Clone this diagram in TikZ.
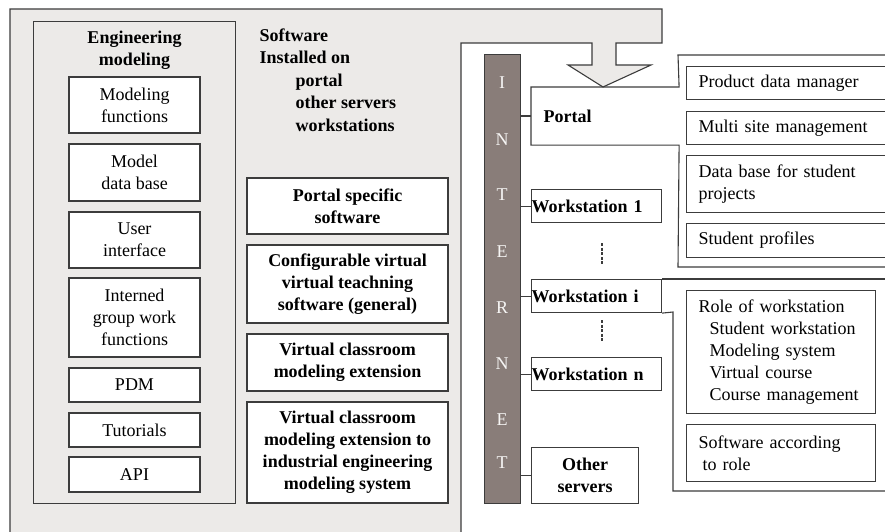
\documentclass[tikz,border=0pt]{standalone}
\usepackage{fontspec}
\setmainfont{Liberation Serif}
\usepackage{tikz}

\definecolor{paleshade}{RGB}{236,234,232}
\definecolor{netbrown}{RGB}{137,125,121}
\definecolor{edgegray}{RGB}{60,60,60}

\begin{document}
\begin{tikzpicture}[x=1pt, y=-1pt, line width=1.1pt,
    every node/.style={font=\fontsize{18}{22}\selectfont},
    softbox/.style={draw=edgegray, fill=white, align=center, minimum width=131, inner sep=0},
    bigbox/.style={draw=edgegray, fill=white, align=center, minimum width=201, inner sep=0,
        font=\fontsize{18}{22}\selectfont\bfseries},
    sidebox/.style={draw=edgegray, fill=white, anchor=north west, align=left, inner xsep=12, inner ysep=0},
    wsbox/.style={draw=edgegray, fill=white, anchor=north west, minimum height=33, text width=130,
        align=left, inner sep=0, font=\fontsize{18}{22}\selectfont\bfseries},
    netletter/.style={text=white!92!netbrown, font=\fontsize{18}{20}\selectfont}]
    \useasboundingbox (0,0) rectangle (885,532);

    % Background
    \fill[paleshade] (10,9) -- (662,9) -- (662,43) -- (616,43) -- (616,65) -- (651,65) -- (603,87)
        -- (568,65) -- (592,65) -- (592,43) -- (461,43) -- (461,532) -- (10,532) -- cycle;
    \draw[edgegray] (10,532) -- (10,9) -- (662,9) -- (662,43) -- (616,43) -- (616,65) -- (651,65)
        -- (603,87) -- (568,65) -- (592,65) -- (592,43) -- (461,43) -- (461,532);

    % Nodes
    \node[draw=edgegray, minimum width=202, minimum height=482, anchor=north west] (engframe) at (33,21) {};
    \node[align=center, font=\fontsize{18}{22}\selectfont\bfseries, anchor=north] (engtitle) at (134.5,27) {Engineering\\modeling};
    \node[softbox, minimum height=56] (modfun) at (134.5,105) {Modeling\\functions};
    \node[softbox, minimum height=57] (modeldb) at (134.5,172.5) {Model\\data base};
    \node[softbox, minimum height=56] (userif) at (134.5,240) {User\\interface};
    \node[softbox, minimum height=79] (groupwork) at (134.5,317.5) {Interned\\group work\\functions};
    \node[softbox, minimum height=34] (pdm) at (134.5,385) {PDM};
    \node[softbox, minimum height=34] (tutorials) at (134.5,430) {Tutorials};
    \node[softbox, minimum height=35] (api) at (134.5,474.5) {API};

    \node[align=left, anchor=north west, inner sep=0, font=\fontsize{18}{22.5}\selectfont\bfseries] (installed) at (259,28)
        {Software\\Installed on\\\hspace*{36pt}portal\\\hspace*{36pt}other servers\\\hspace*{36pt}workstations};

    \node[bigbox, minimum height=56] (portalsw) at (347.5,206) {Portal specific\\software};
    \node[bigbox, minimum height=78] (configsw) at (347.5,284) {Configurable virtual\\virtual teachning\\software (general)};
    \node[bigbox, minimum height=57] (vcext) at (347.5,362.5) {Virtual classroom\\modeling extension};
    \node[bigbox, minimum height=101] (vcind) at (347.5,452.5) {Virtual classroom\\modeling extension to\\industrial engineering\\modeling system};

    \node[draw=edgegray, fill=netbrown, minimum width=36, minimum height=449, anchor=north west, inner sep=0] (inet) at (484,54) {};
    \foreach \ltr/\ypos [count=\i] in {I/83, N/140, T/195, E/252, R/308, N/364, E/420, T/463}
        \node[netletter] (letter\i) at (502,\ypos) {\ltr};

    \node[anchor=north west, minimum width=147, minimum height=57, text width=123, inner xsep=12, inner ysep=0,
        align=left, font=\fontsize{18}{22}\selectfont\bfseries] (portal) at (531,87) {Portal};
    \draw[edgegray] (895,55) -- (678,55) -- (portal.north east) -- (portal.north west) -- (portal.south west)
        -- (portal.south east) -- (678,267) -- (895,267);

    \node[sidebox, minimum width=209, minimum height=33, text width=185] (pdmanager) at (686,66) {Product data manager};
    \node[sidebox, minimum width=209, minimum height=33, text width=185] (multisite) at (686,111) {Multi site management};
    \node[sidebox, minimum width=209, minimum height=57, text width=185] (projectdb) at (686,155) {Data base for student\\projects};
    \node[sidebox, minimum width=209, minimum height=34, text width=185] (profiles) at (686,223) {Student profiles};

    \node[wsbox] (wsone) at (531,189) {Workstation 1};
    \node[wsbox] (wsi) at (531,279) {Workstation i};
    \node[wsbox] (wsn) at (531,357) {Workstation n};
    \node[draw=edgegray, fill=white, anchor=north west, minimum width=107, minimum height=56, inner sep=0,
        align=center, font=\fontsize{18}{22}\selectfont\bfseries] (others) at (531,447) {Other\\servers};

    \draw[edgegray] (wsi.north east) -- (895,279);
    \draw[edgegray] (wsi.south east) -- (673,312) -- (673,491) -- (895,491);

    \node[sidebox, minimum width=189, minimum height=123, text width=165] (role) at (686,290)
        {Role of workstation\\\hspace*{11pt}Student workstation\\\hspace*{11pt}Modeling system\\\hspace*{11pt}Virtual course\\\hspace*{11pt}Course management};
    \node[sidebox, minimum width=189, minimum height=57, text width=165] (byrole) at (686,424)
        {Software according\\\hspace*{4pt}to role};

    % Dots
    \coordinate (dotsa) at (602,243);
    \coordinate (dotsb) at (602,320);
    \draw[edgegray, line width=2.2pt, dash pattern=on 3pt off 1.6pt] (dotsa) -- ++(0,21);
    \draw[edgegray, line width=2.2pt, dash pattern=on 3pt off 1.6pt] (dotsb) -- ++(0,21);

    % Links
    \draw[edgegray] (inet.east |- portal.west) -- (portal.west);
    \draw[edgegray] (inet.east |- wsone.west) -- (wsone.west);
    \draw[edgegray] (inet.east |- wsi.west) -- (wsi.west);
    \draw[edgegray] (inet.east |- wsn.west) -- (wsn.west);
    \draw[edgegray] (inet.east |- others.west) -- (others.west);
\end{tikzpicture}
\end{document}
